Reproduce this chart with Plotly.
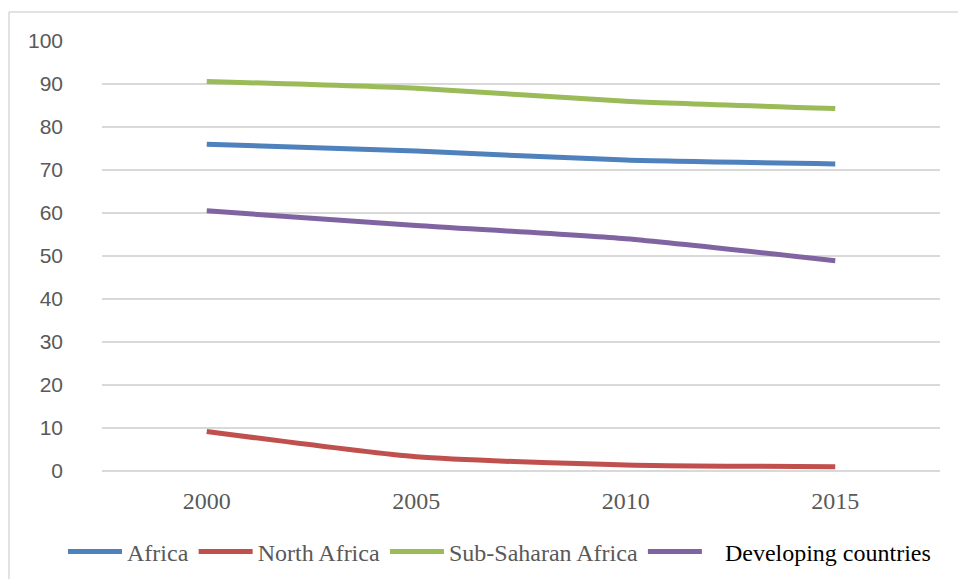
import plotly.graph_objects as go

years = ["2000", "2005", "2010", "2015"]
africa = [76.0, 74.4, 72.3, 71.4]
north_africa = [9.2, 3.3, 1.4, 1.0]
sub_saharan = [90.6, 89.0, 86.0, 84.3]
developing = [60.5, 57.1, 54.0, 48.9]
y_ticks = [0, 10, 20, 30, 40, 50, 60, 70, 80, 90, 100]

series = [
    ("Africa", africa, "#4F81BD"),
    ("North Africa", north_africa, "#C0504D"),
    ("Sub-Saharan Africa", sub_saharan, "#9BBB59"),
    ("<span style='color:#000000'>&nbsp;&nbsp;&nbsp;Developing countries</span>", developing, "#8064A2"),
]

fig = go.Figure()
for name, vals, color in series:
    fig.add_trace(go.Scatter(
        x=years, y=vals, name=name, mode="lines",
        line=dict(color=color, width=5, shape="spline", smoothing=0.6),
    ))

W, H = 958, 579
L, R, T, B = 102, 18, 41, 108
pw, ph = W - L - R, H - T - B

def px_x(p):
    return (p - L) / pw

def px_y(p):
    return (H - B - p) / ph

border = dict(color="#D9D9D9", width=1.5)
fig.add_shape(type="line", xref="paper", yref="paper",
              x0=px_x(9), x1=px_x(9), y0=px_y(12), y1=px_y(H), line=border)
fig.add_shape(type="line", xref="paper", yref="paper",
              x0=px_x(9), x1=px_x(W), y0=px_y(12), y1=px_y(12), line=border)

fig.update_layout(
    width=W, height=H,
    margin=dict(l=L, r=R, t=T, b=B, autoexpand=False),
    paper_bgcolor="white", plot_bgcolor="white",
    showlegend=True,
    legend=dict(
        orientation="h",
        x=px_x(63), xanchor="left", y=px_y(552), yanchor="middle",
        font=dict(family="Liberation Serif", size=24, color="#595959"),
        itemwidth=54, tracegroupgap=0,
    ),
    xaxis=dict(
        type="category", range=[-0.5, 3.5], showgrid=False, zeroline=False,
        showline=False, ticks="", automargin=False,
        tickfont=dict(family="Liberation Serif", size=24, color="#595959"),
        ticklabelstandoff=13,
    ),
    yaxis=dict(
        range=[0, 100], tickvals=y_ticks, showgrid=True, gridcolor="#D9D9D9",
        gridwidth=1.5, zeroline=True, zerolinecolor="#D9D9D9", zerolinewidth=1.5,
        showline=False, ticks="", automargin=False,
        tickfont=dict(family="Liberation Sans", size=21, color="#595959"),
        ticklabelstandoff=38,
    ),
)

fig.write_html("out.html", config={"displayModeBar": False},
               post_script="document.body.style.margin='0';")
